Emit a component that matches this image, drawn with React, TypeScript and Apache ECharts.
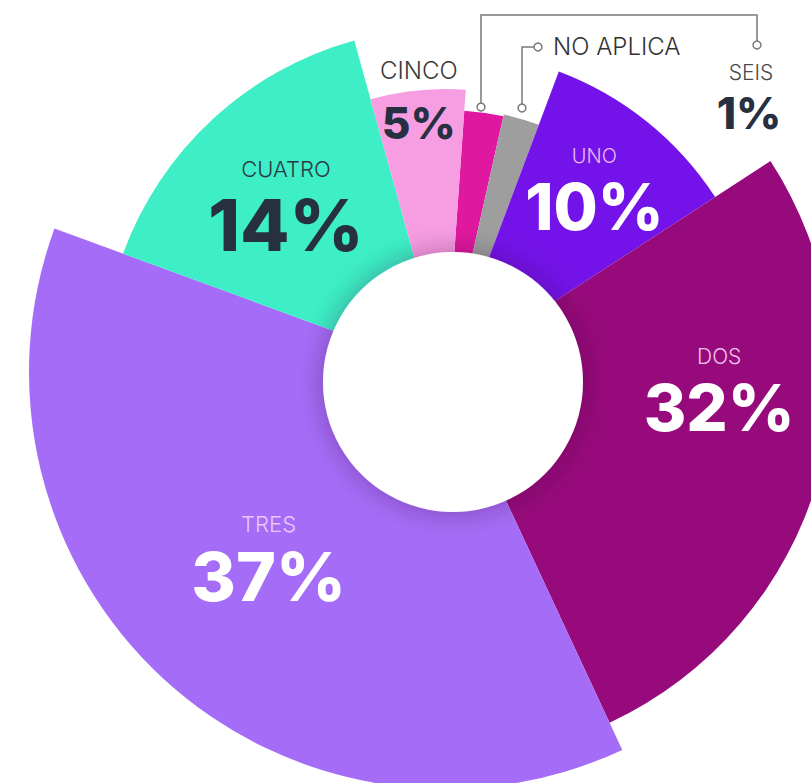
import React, { useEffect, useRef } from 'react';
import * as echarts from 'echarts';

// Categories in clockwise order from the top
const categories = ['SEIS', 'NO APLICA', 'UNO', 'DOS', 'TRES', 'CUATRO', 'CINCO'];
// Angular share of each wedge as drawn in the picture
const shares = [2.4, 2.2, 10.1, 27.2, 37.5, 15.1, 5.4];
// Printed percentages
const percents = [1, 1, 10, 32, 37, 14, 5];

// Styling (not data)
const colors = ['#E0189F', '#9E9E9E', '#7413E9', '#970A7B', '#A56CF7', '#3DEEC7', '#F79DE2'];
const outerRadii = [262, 264, 321, 387, 417, 344, 283];

type LabelCfg = {
  nSize: number; nColor: string; nLH: number;
  vSize: number; vColor: string; vLH: number;
  pad: number[];
} | null;

const labelCfgs: LabelCfg[] = [
  null,
  null,
  { nSize: 20, nColor: '#EBB8F3', nLH: 37, vSize: 64, vColor: '#FFFFFF', vLH: 64, pad: [0, 0, 23, 20] },
  { nSize: 21, nColor: '#F3C0EA', nLH: 38, vSize: 65, vColor: '#FFFFFF', vLH: 65, pad: [0, 0, 106, 58] },
  { nSize: 22, nColor: '#EEC6F8', nLH: 36, vSize: 68, vColor: '#FFFFFF', vLH: 68, pad: [0, 0, 25, 9] },
  { nSize: 22, nColor: '#2B3A44', nLH: 39, vSize: 72, vColor: '#263040', vLH: 72, pad: [7, 5, 0, 0] },
  { nSize: 24, nColor: '#3A3A3A', nLH: 61, vSize: 44, vColor: '#263040', vLH: 44, pad: [0, 14, 158, 0] },
];

const FONT = 'Inter, "Noto Sans", sans-serif';

export default function App() {
  const ref = useRef<HTMLDivElement>(null);
  useEffect(() => {
    document.body.style.margin = '0';
    if (!ref.current) return;
    const chart = echarts.init(ref.current, null, { renderer: 'svg' });

    const sliceSeries = categories.map((cat, i) => {
      const cfg = labelCfgs[i];
      return {
        type: 'pie',
        name: cat,
        silent: true,
        z: 2,
        center: [446, 372],
        radius: [115, outerRadii[i]],
        startAngle: 86,
        clockwise: true,
        avoidLabelOverlap: false,
        emphasis: { disabled: true },
        labelLine: { show: false },
        data: categories.map((n, j) => ({
          name: n,
          value: shares[j],
          itemStyle: { color: j === i ? colors[i] : 'rgba(0,0,0,0)' },
          label: j === i && cfg
            ? {
                show: true,
                position: 'inside',
                formatter: `{n|${n}}\n{v|${percents[j]}%}`,
                padding: cfg.pad,
                rich: {
                  n: { fontFamily: FONT, fontSize: cfg.nSize, fontWeight: 300, color: cfg.nColor, lineHeight: cfg.nLH, align: 'center' },
                  v: { fontFamily: FONT, fontSize: cfg.vSize, fontWeight: 800, color: cfg.vColor, lineHeight: cfg.vLH, align: 'center' },
                },
              }
            : { show: false },
        })),
      };
    });

    const holeSeries = {
      type: 'pie',
      silent: true,
      z: 10,
      center: [453, 382],
      radius: [0, 130],
      label: { show: false },
      labelLine: { show: false },
      emphasis: { disabled: true },
      data: [{ value: 1, name: 'hole', itemStyle: { color: '#FFFFFF', shadowBlur: 26, shadowColor: 'rgba(40,0,40,0.35)' } }],
    };

    const lineStyle = { stroke: '#7A7A7A', lineWidth: 1.5, fill: 'none' };
    const dot = (x: number, y: number) => ({
      type: 'circle', z: 20, shape: { cx: x, cy: y, r: 4 }, style: { fill: '#FFFFFF', stroke: '#7A7A7A', lineWidth: 1.5 },
    });

    chart.setOption({
      animation: false,
      backgroundColor: '#FFFFFF',
      series: [...sliceSeries, holeSeries],
      graphic: [
        { type: 'polyline', z: 19, shape: { points: [[757, 41], [757, 15], [481, 15], [481, 103]] }, style: lineStyle },
        dot(757, 45),
        dot(481, 107),
        { type: 'polyline', z: 19, shape: { points: [[534, 47], [522, 47], [522, 104]] }, style: lineStyle },
        dot(538, 47),
        dot(522, 108),
        {
          type: 'text', z: 20, x: 553, y: 46,
          style: { text: categories[1], fontFamily: FONT, fontSize: 24, fontWeight: 300, fill: '#333333', verticalAlign: 'middle', align: 'left' },
        },
        {
          type: 'text', z: 20, x: 751, y: 72,
          style: { text: categories[0], fontFamily: FONT, fontSize: 21, fontWeight: 300, fill: '#4A4A4A', verticalAlign: 'middle', align: 'center' },
        },
        {
          type: 'text', z: 20, x: 749, y: 113,
          style: { text: `${percents[0]}%`, fontFamily: FONT, fontSize: 44, fontWeight: 800, fill: '#263040', verticalAlign: 'middle', align: 'center' },
        },
      ],
    });
    return () => chart.dispose();
  }, []);
  return <div ref={ref} style={{ width: 811, height: 783 }} />;
}
